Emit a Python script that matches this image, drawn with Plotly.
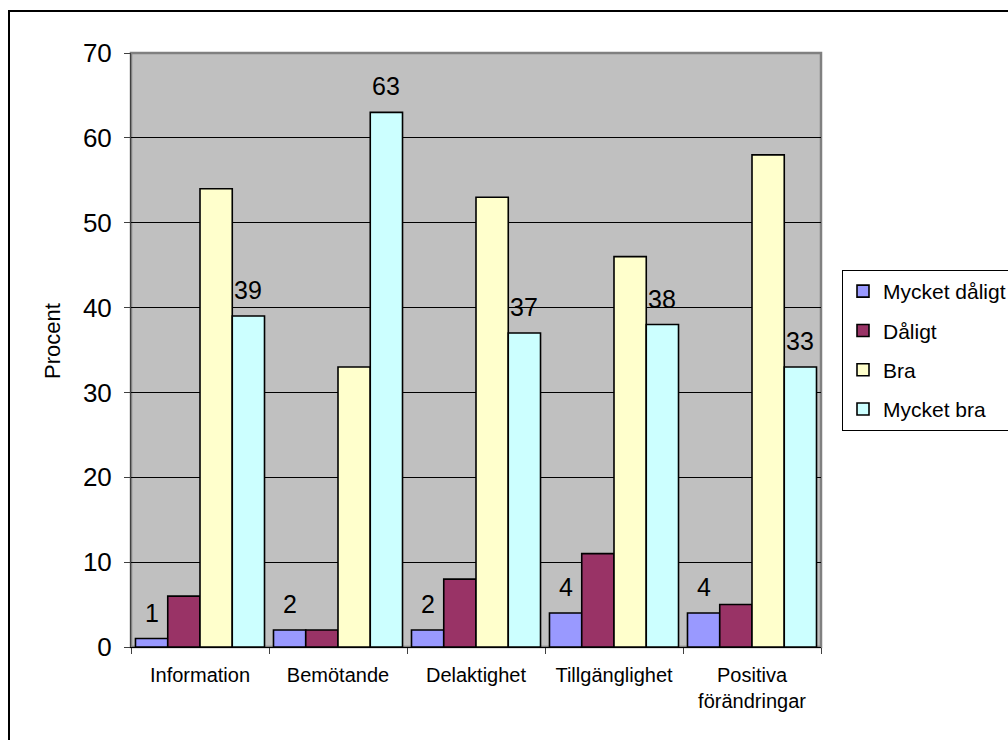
import plotly.graph_objects as go

categories = ["Information", "Bemötande", "Delaktighet", "Tillgänglighet", "Positiva<br>förändringar"]
series_names = ["Mycket dåligt", "Dåligt", "Bra", "Mycket bra"]
mycket_daligt = [1, 2, 2, 4, 4]
daligt = [6, 2, 8, 11, 5]
bra = [54, 33, 53, 46, 58]
mycket_bra = [39, 63, 37, 38, 33]
y_ticks = [0, 10, 20, 30, 40, 50, 60, 70]

series_values = [mycket_daligt, daligt, bra, mycket_bra]
colors = ["#9999FF", "#993366", "#FFFFCC", "#CCFFFF"]
labelled = [True, False, False, True]

FONT = "Arial, Liberation Sans, sans-serif"
W, H = 1008, 740
L, R, T, B = 131, 187, 53, 93
PW, PH = W - L - R, H - T - B
BARGAP = 0.065

def px_x(x):
    return (x - L) / PW

def px_y(y):
    return (H - B - y) / PH

fig = go.Figure()
for i, (name, vals, col) in enumerate(zip(series_names, series_values, colors)):
    fig.add_trace(go.Bar(
        x=categories, y=vals, name=name, legendgroup=name,
        marker=dict(color=col, line=dict(color="black", width=1.6)),
        hoverinfo="skip",
    ))

annotations = []
bw = (1 - BARGAP) / len(series_names)
for i, vals in enumerate(series_values):
    if not labelled[i]:
        continue
    for j, v in enumerate(vals):
        annotations.append(dict(
            x=j - (1 - BARGAP) / 2 + (i + 0.5) * bw, y=v, xref="x", yref="y",
            text=str(v), showarrow=False, yanchor="middle", yshift=26,
            font=dict(family=FONT, size=25, color="black"),
        ))

annotations.append(dict(
    x=px_x(52), y=px_y(341), xref="paper", yref="paper", text="Procent",
    textangle=-90, showarrow=False, xanchor="center", yanchor="middle",
    font=dict(family=FONT, size=22, color="black"),
))

shapes = [
    # outer chart border
    dict(type="rect", xref="paper", yref="paper",
         x0=px_x(9), y0=px_y(H + 20), x1=px_x(W + 20), y1=px_y(11),
         line=dict(color="black", width=2), fillcolor="rgba(0,0,0,0)", layer="above"),
    # plot area border (top/right gray)
    dict(type="rect", xref="paper", yref="paper", x0=0, y0=0, x1=1, y1=1,
         line=dict(color="#808080", width=2.5), fillcolor="rgba(0,0,0,0)", layer="below"),
]

fig.update_layout(
    width=W, height=H, autosize=False,
    margin=dict(l=L, r=R, t=T, b=B, pad=0),
    paper_bgcolor="white", plot_bgcolor="#C0C0C0",
    barmode="group", bargap=BARGAP, bargroupgap=0,
    font=dict(family=FONT, color="black"),
    showlegend=True,
    legend=dict(
        xref="container", yref="container",
        x=842 / W, y=(H - 270) / H, xanchor="left", yanchor="top",
        bgcolor="white", bordercolor="black", borderwidth=1,
        font=dict(family=FONT, size=21, color="black"),
        tracegroupgap=9, traceorder="grouped",
    ),
    annotations=annotations,
    shapes=shapes,
)
fig.update_xaxes(
    type="category", tickson="boundaries", ticks="outside", ticklen=6,
    tickcolor="#404040", showline=True, linecolor="black", linewidth=1,
    showgrid=False, tickfont=dict(family=FONT, size=20, color="black"),
    ticklabelstandoff=10,
)
fig.update_yaxes(
    range=[0, 70], tickvals=y_ticks, ticks="outside", ticklen=6,
    tickcolor="#404040", showline=True, linecolor="#404040", linewidth=1,
    showgrid=True, gridcolor="black", gridwidth=1, zeroline=False,
    tickfont=dict(family=FONT, size=26, color="black"),
    ticklabelstandoff=7,
)

fig.write_html("out.html")
